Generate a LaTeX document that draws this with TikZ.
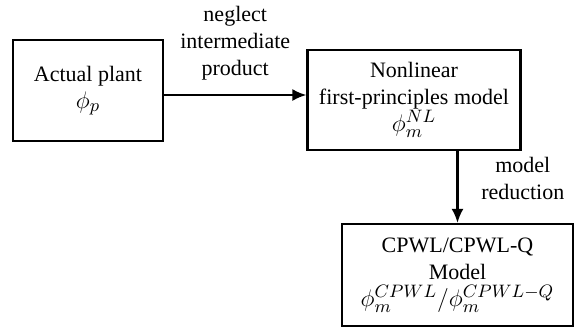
\documentclass[tikz,border=0pt]{standalone}
\usepackage{fontspec}
\setmainfont{Liberation Serif}
\usetikzlibrary{arrows.meta,positioning}

\newcommand{\bigmath}[1]{{\fontsize{13}{15}\selectfont$#1$}}

\begin{document}
\begin{tikzpicture}[x=0.5pt,y=-0.5pt,align=center,font=\fontsize{11}{13.5}\selectfont]
\tikzstyle{block}=[draw=black,line width=1.1pt,inner sep=2pt]
\tikzstyle{flow}=[-{Latex[length=7pt,width=6pt]},line width=1.1pt]

\useasboundingbox (0,0) rectangle (579,329);

\node[block,minimum width=75pt,minimum height=50.5pt] (plant) at (88,90.5) {Actual plant\\\bigmath{\phi_p}};
\node[block,minimum width=106.5pt,minimum height=50pt] (nlmodel) at (414,100) {Nonlinear\\first-principles model\\\bigmath{\phi_m^{NL}}};
\node[block,minimum width=115.5pt,minimum height=51pt] (cpwl) at (457.5,275) {CPWL/CPWL-Q\\Model\\\bigmath{\phi_m^{CPWL}/\phi_m^{CPWL-Q}}};

\draw[flow] ([yshift=-2.25pt]plant.east) -- node[above=3.5pt] (neglect) {neglect\\intermediate\\product} ([yshift=2.5pt]nlmodel.west);
\draw[flow] (nlmodel.south -| cpwl.north) -- node[right=8pt,yshift=4.5pt] (reduction) {model\\reduction} (cpwl.north);
\end{tikzpicture}
\end{document}
